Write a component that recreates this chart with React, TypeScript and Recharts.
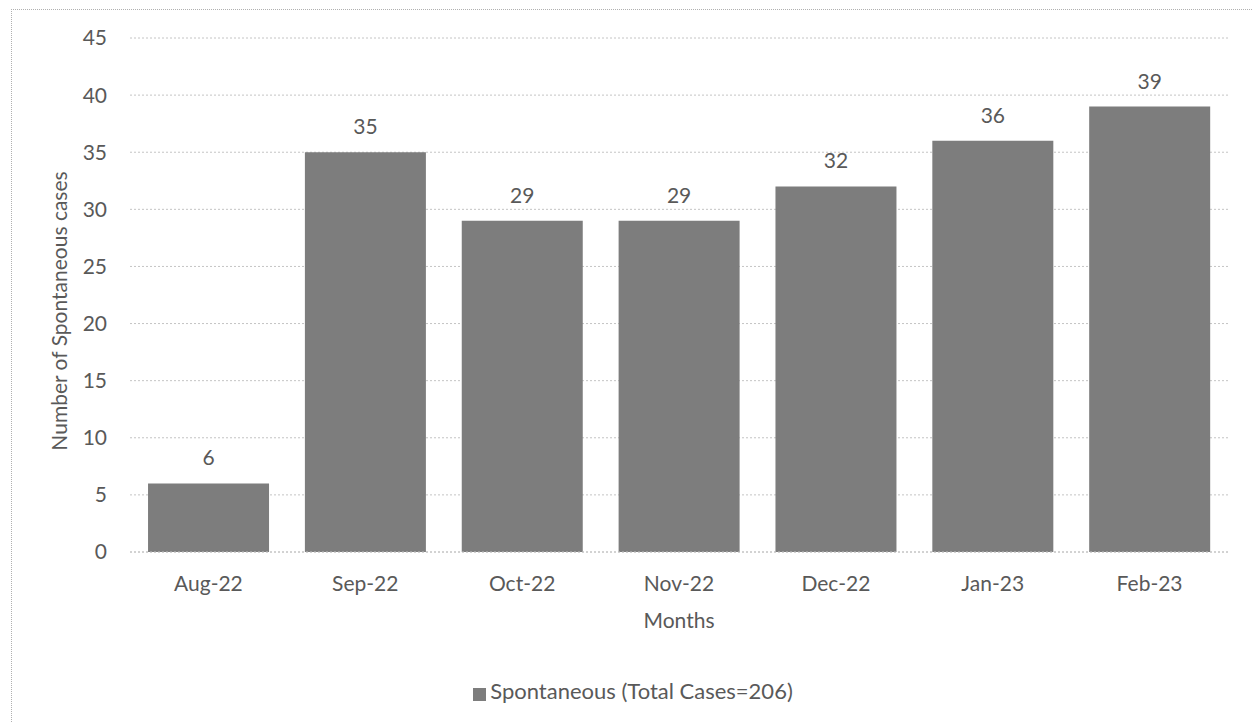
import { BarChart, Bar, XAxis, YAxis, CartesianGrid, Legend, LabelList, Label } from "recharts";

const months = ["Aug-22", "Sep-22", "Oct-22", "Nov-22", "Dec-22", "Jan-23", "Feb-23"];
const spontaneous = [6, 35, 29, 29, 32, 36, 39];
const yTicks = [0, 5, 10, 15, 20, 25, 30, 35, 40, 45];

const data = months.map((m, i) => ({ month: m, spontaneous: spontaneous[i] }));

const FONT = "Lato, 'Open Sans', sans-serif";
const TEXT = "#595959";

export default function App() {
  return (
    <div style={{ position: "absolute", left: 0, top: 0, width: 1252, height: 723, background: "#fff", fontFamily: FONT }}>
      <div
        style={{
          position: "absolute",
          left: 11,
          top: 9,
          width: 1260,
          height: 730,
          borderLeft: "1px dotted #b0b0b0",
          borderTop: "1px dotted #b0b0b0",
        }}
      />
      <div style={{ position: "absolute", left: 0, top: 0 }}>
        <BarChart
          width={1252}
          height={723}
          data={data}
          margin={{ top: 38, right: 24, bottom: 20, left: 0 }}
          barCategoryGap="11.5%"
        >
          <CartesianGrid vertical={false} stroke="#c4c4c4" strokeDasharray="2 2" />
          <XAxis
            dataKey="month"
            height={125}
            tickLine={false}
            axisLine={{ stroke: "#c4c4c4", strokeDasharray: "2 2" }}
            tick={{ fontSize: 21, fill: TEXT, fontFamily: FONT }}
            tickMargin={18}
          >
            <Label value="Months" position="insideTop" offset={61} fontSize={21} fill={TEXT} fontFamily={FONT} />
          </XAxis>
          <YAxis
            width={130}
            domain={[0, 45]}
            ticks={yTicks}
            interval={0}
            tickLine={false}
            axisLine={false}
            tick={{ fontSize: 21, fill: TEXT, fontFamily: FONT }}
            tickMargin={17}
          >
            <Label
              value="Number of Spontaneous cases"
              angle={-90}
              position="center"
              dx={-5}
              dy={16}
              fontSize={21}
              fill={TEXT}
              fontFamily={FONT}
            />
          </YAxis>
          <Legend
            verticalAlign="bottom"
            height={26}
            iconType="square"
            iconSize={13}
            wrapperStyle={{ left: 24 }}
            formatter={(v) => <span style={{ color: TEXT, fontSize: 22, fontFamily: FONT }}>{v}</span>}
          />
          <Bar dataKey="spontaneous" name="Spontaneous (Total Cases=206)" fill="#7d7d7d" isAnimationActive={false}>
            <LabelList dataKey="spontaneous" position="top" offset={18} fontSize={21} fill={TEXT} fontFamily={FONT} />
          </Bar>
        </BarChart>
      </div>
    </div>
  );
}
